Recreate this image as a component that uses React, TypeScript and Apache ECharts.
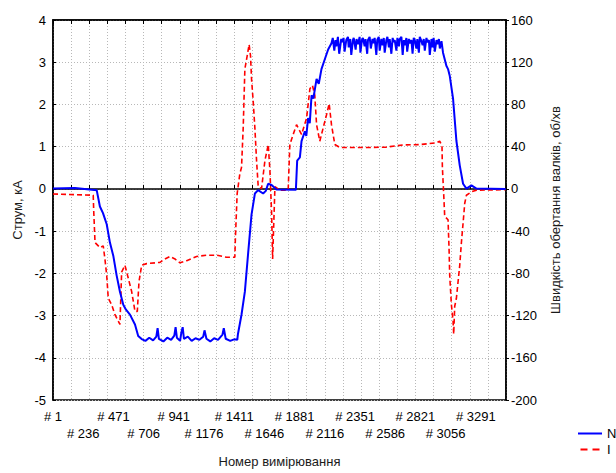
import React, { useEffect, useRef } from "react";
import * as echarts from "echarts";

// Blue solid series "N" (roll speed, rpm) — right axis
const nSample = [
  1, 172, 341, 366, 390, 419, 444, 470, 496, 522, 548, 569, 600, 639, 664, 691,
  720, 750, 780, 805, 815, 825, 860, 890, 920, 945, 955, 965, 990, 1000, 1010, 1020,
  1050, 1080, 1110, 1140, 1170, 1180, 1195, 1225, 1255, 1285, 1320, 1330, 1345, 1380, 1410, 1435,
  1440, 1468, 1494, 1520, 1546, 1572, 1597, 1636, 1657, 1675, 1702, 1740, 1891,
  1901, 1922, 1935, 1961, 1972, 1986, 1999, 2013, 2027, 2052, 2069, 2090, 2116, 2142,
  2168, 2178, 2190, 2199, 2206, 2218, 2228, 2244, 2251, 2262, 2270, 2283, 2296, 2302, 2314, 2322,
  2335, 2341, 2356, 2363, 2374, 2387, 2393, 2405, 2413, 2426, 2433, 2446, 2452, 2465, 2474, 2487,
  2494, 2504, 2517, 2524, 2536, 2543, 2556, 2566, 2575, 2582, 2595, 2603, 2615, 2621, 2634, 2644,
  2652, 2660, 2673, 2681, 2693, 2699, 2712, 2722, 2731, 2738, 2751, 2757, 2770, 2777, 2790, 2799,
  2808, 2816, 2829, 2836, 2848, 2855, 2868, 2877, 2886, 2894, 2907, 2914, 2926, 2933, 2946, 2955,
  2963, 2972, 2985, 2992, 3004, 3011, 3024,
  3036, 3062, 3075, 3088, 3114, 3140, 3166, 3192, 3218, 3257, 3296, 3523,
];
const nSpeed = [
  0.4, 0.8, -1.2, -16.7, -23, -33.5, -50.9, -63.3, -81.9, -97.4, -109.8, -114.4, -119.1, -128.4, -139.3, -142.3,
  -144, -141, -143.5, -140, -132, -142, -144.5, -141, -143, -139, -131, -141, -144, -136, -131, -142,
  -140, -144, -141.5, -143, -140, -134, -142, -144.5, -141.5, -143, -138, -132, -142, -144, -142.5, -143,
  -137.7, -119, -97.4, -60.2, -24.2, -4.4, -1.2, -4.4, -1.9, 4.9, 3.7, -0.5, -0.9,
  26.7, 29.8, 45.3, 54.6, 50.2, 67, 62.3, 88.6, 85.6, 104.2, 99.5, 113.5, 122.8, 132.1,
  138, 143, 131, 141, 135, 144, 128, 142, 139, 143, 130, 141, 144, 134, 142, 127,
  141, 143, 132, 142, 137, 144, 129, 141, 143, 135, 142, 128, 141, 144, 133, 142,
  138, 143, 127, 141, 144, 131, 142, 136, 143, 129, 141, 144, 134, 142, 128, 143,
  139, 141, 131, 143, 135, 142, 144, 127, 141, 136, 143, 130, 142, 138, 141, 128,
  143, 141, 133, 142, 129, 144, 140, 136, 142, 131, 143, 139, 141, 127, 142, 134,
  143, 130, 141, 137, 142, 133, 140,
  129, 116.6, 113.5, 107.3, 85.6, 45.6, 22.3, 4.9, 0.3, 3.4, 0.3, 0,
];

// Red dashed series "I" (current, kA) — left axis
const iSample = [
  1, 314, 318, 328, 366, 392, 405, 419, 431, 457, 483, 522, 535, 561, 587, 613,
  639, 657, 670, 691, 730, 833, 872, 911, 950, 989, 1041, 1118, 1196, 1274, 1352, 1416,
  1420, 1434, 1455, 1468, 1481, 1494, 1512, 1527, 1538, 1546, 1559, 1572, 1585, 1598, 1624, 1650,
  1676, 1689, 1702, 1710, 1728, 1767, 1831, 1844, 1870, 1896, 1935, 1974, 2000, 2020,
  2038, 2052, 2077, 2103, 2129, 2150, 2168, 2194, 2233, 2336, 2466, 2596, 2725, 2855,
  2985, 3010, 3028, 3031, 3041, 3049, 3075, 3083, 3088, 3101, 3114, 3119, 3127, 3140, 3153, 3166,
  3179, 3192, 3205, 3218, 3257, 3296, 3523,
];
const iCurrent = [
  -0.12, -0.15, -0.53, -1.27, -1.39, -1.35, -1.66, -2.05, -2.59, -2.74, -2.98, -3.21, -1.97, -1.81, -2.12, -2.43,
  -2.9, -2.9, -2.2, -1.81, -1.77, -1.74, -1.66, -1.6, -1.66, -1.75, -1.7, -1.6, -1.57, -1.57, -1.62, -1.62,
  -1.19, -0.11, 0.36, 0.51, 1.44, 2.84, 3.15, 3.42, 3.15, 2.6, 2.06, 1.44, 0.67, 0.05, 0.01, 0.67,
  1.05, 0.43, -0.57, -1.66, 0.05, -0.03, -0.03, 1.05, 1.29, 1.52, 1.29, 1.67, 2.37, 2.45,
  2.22, 1.52, 1.13, 1.44, 1.75, 2.02, 1.52, 1.05, 0.98, 0.98, 0.98, 0.99, 1.04, 1.05,
  1.09, 1.13, 1.02, 0.51, -0.11, -0.65, -0.73, -1.43, -2.05, -2.74, -3.13, -3.44, -2.78, -2.59, -2.2, -1.81,
  -1.27, -0.81, -0.34, -0.15, -0.07, -0.03, -0.02,
];

const xMin = 1;
const xMax = 3526;
const xGridStep = 141;
const xLabelStep = 235;
const xLabelLast = 3291;

const FONT = "'Liberation Sans', Arial, sans-serif";

export default function App() {
  const ref = useRef<HTMLDivElement>(null);

  useEffect(() => {
    document.body.style.margin = "0";
    const chart = echarts.init(ref.current!, undefined, { renderer: "svg" });
    const dotted = { show: true, lineStyle: { color: "#b8b8b8", type: [1, 2] as any, width: 1 } };
    const nData = nSample.map((s, k) => [s, nSpeed[k]]);
    const iData = iSample.map((s, k) => [s, iCurrent[k]]);

    chart.setOption({
      animation: false,
      backgroundColor: "#ffffff",
      textStyle: { fontFamily: FONT },
      grid: {
        left: 53,
        right: 110,
        top: 20,
        bottom: 65,
        show: true,
        borderColor: "#000",
        borderWidth: 1.5,
        backgroundColor: "transparent",
      },
      legend: {
        orient: "vertical",
        left: 573,
        top: 422,
        itemWidth: 24,
        itemHeight: 2,
        itemGap: 3,
        data: [
          { name: "N", icon: "path://M0,0H24V2H0Z" },
          { name: "I", icon: "path://M0,0H7V2H0Z M12,0H19V2H12Z" },
        ],
        textStyle: { fontSize: 13, color: "#000", fontFamily: FONT },
      },
      xAxis: [
        {
          type: "value",
          min: xMin,
          max: xMax,
          interval: xGridStep,
          position: "bottom",
          axisLine: { show: true, lineStyle: { color: "#000", width: 1.5 } },
          axisTick: { show: true, inside: true, length: 4, lineStyle: { color: "#000" } },
          axisLabel: { show: false },
          splitLine: dotted,
        },
        {
          type: "value",
          min: xMin,
          max: xMax,
          interval: xLabelStep,
          position: "bottom",
          axisLine: { show: false },
          axisTick: { show: false },
          splitLine: { show: false },
          axisLabel: {
            show: true,
            margin: 8,
            fontSize: 13,
            lineHeight: 17,
            color: "#000",
            fontFamily: FONT,
            showMaxLabel: false,
            formatter: (v: number) => {
              if (v > xLabelLast) return "";
              const idx = Math.round((v - xMin) / xLabelStep);
              return idx % 2 === 0 ? "# " + v : "\n# " + v;
            },
          },
          name: "Номер вимірювання",
          nameLocation: "middle",
          nameGap: 55,
          nameTextStyle: { fontSize: 13, color: "#1a1a1a", fontFamily: FONT },
        },
        {
          type: "value",
          min: xMin,
          max: xMax,
          interval: xGridStep,
          position: "top",
          axisLine: { show: true, lineStyle: { color: "#000", width: 1.5 } },
          axisTick: { show: true, inside: true, length: 4, lineStyle: { color: "#000" } },
          axisLabel: { show: false },
          splitLine: { show: false },
        },
      ],
      yAxis: [
        {
          type: "value",
          min: -5,
          max: 4,
          interval: 1,
          position: "left",
          axisLine: { show: true, lineStyle: { color: "#000", width: 1.5 } },
          axisTick: { show: true, inside: true, length: 3, lineStyle: { color: "#000" } },
          axisLabel: { margin: 7, fontSize: 13, color: "#000", fontFamily: FONT },
          splitLine: dotted,
          name: "Струм, кА",
          nameLocation: "middle",
          nameRotate: 90,
          nameGap: 29,
          nameTextStyle: { fontSize: 13, color: "#1a1a1a", fontFamily: FONT },
        },
        {
          type: "value",
          min: -200,
          max: 160,
          interval: 40,
          position: "right",
          axisLine: { show: true, lineStyle: { color: "#000", width: 1.5 } },
          axisTick: { show: true, inside: false, length: 3, lineStyle: { color: "#000" } },
          axisLabel: { margin: 5, fontSize: 13, color: "#000", fontFamily: FONT },
          splitLine: { show: false },
          name: "Швидкість обертання валків, об/хв",
          nameLocation: "middle",
          nameRotate: 90,
          nameGap: 43,
          nameTextStyle: { fontSize: 13, color: "#1a1a1a", fontFamily: FONT },
        },
      ],
      series: [
        {
          name: "I",
          type: "line",
          xAxisIndex: 0,
          yAxisIndex: 0,
          data: iData,
          symbol: "none",
          showSymbol: false,
          lineStyle: { color: "#ff0000", width: 1.6, type: [5, 3] as any },
          itemStyle: { color: "#ff0000" },
          z: 2,
        },
        {
          name: "N",
          type: "line",
          xAxisIndex: 0,
          yAxisIndex: 1,
          data: nData,
          symbol: "none",
          showSymbol: false,
          lineStyle: { color: "#0000ff", width: 2 },
          itemStyle: { color: "#0000ff" },
          z: 3,
        },
      ],
    });
    return () => chart.dispose();
  }, []);

  return (
    <div
      ref={ref}
      style={{ position: "fixed", left: 0, top: 0, width: "616px", height: "473px", background: "#fff" }}
    />
  );
}
